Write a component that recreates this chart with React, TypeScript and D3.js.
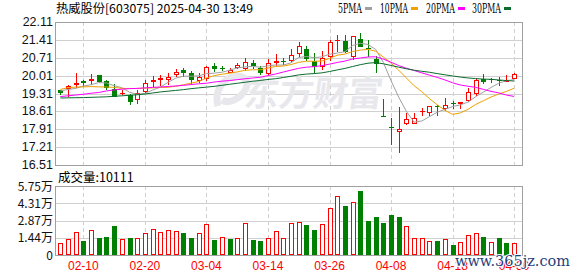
import React from 'react';
import * as d3 from 'd3';

const dates = [
  '02-05','02-06','02-07','02-10','02-11','02-12','02-13','02-14','02-17','02-18','02-19','02-20','02-21','02-24','02-25','02-26','02-27','02-28',
  '03-03','03-04','03-05','03-06','03-07','03-10','03-11','03-12','03-13','03-14','03-17','03-18','03-19','03-20','03-21','03-24','03-25','03-26','03-27','03-28','03-31',
  '04-01','04-02','04-03','04-07','04-08','04-09','04-10','04-11','04-14','04-15','04-16','04-17','04-18','04-21','04-22','04-23','04-24','04-25','04-28','04-29','04-30'
];
const opens = [19.44,19.47,19.64,19.80,19.81,20.03,19.79,19.47,19.28,19.25,19.06,19.37,19.77,19.82,19.84,20.05,20.23,20.11,19.79,19.86,
  20.39,20.31,20.12,20.32,20.26,20.50,20.31,20.07,20.50,20.59,20.59,20.86,21.06,20.60,20.33,20.74,21.37,21.37,20.73,21.43,
  21.11,20.67,18.42,18.00,17.81,18.13,18.12,18.59,18.56,18.82,18.72,18.94,18.90,19.03,19.28,19.88,19.87,19.83,19.77,19.88];
const highs = [19.46,19.63,20.12,19.82,20.07,20.03,19.84,19.68,19.45,19.29,19.45,19.84,19.98,20.03,20.11,20.28,20.32,20.20,20.12,20.39,
  20.49,20.40,20.32,20.49,20.69,20.62,20.39,20.66,20.85,20.71,21.04,21.34,21.16,20.88,20.97,21.39,21.60,21.60,21.58,21.68,
  21.41,20.78,19.09,18.34,18.78,18.53,18.56,18.74,18.82,18.86,19.13,19.03,18.96,19.51,19.93,20.07,19.93,19.96,20.03,20.13];
const lows = [19.25,19.19,19.53,19.57,19.64,19.74,19.45,19.17,19.27,18.86,18.88,19.33,19.58,19.60,19.64,19.96,19.97,19.68,19.71,19.80,
  20.16,20.20,20.11,20.25,20.20,20.27,20.03,20.03,20.39,20.43,20.56,20.74,20.58,20.10,20.23,20.58,20.95,20.88,20.62,21.12,
  20.75,20.13,18.38,17.29,16.99,18.08,18.11,18.43,18.41,18.43,18.63,18.70,18.69,18.99,19.22,19.67,19.73,19.60,19.76,19.88];
const closes = [19.34,19.59,19.73,19.73,19.88,19.75,19.53,19.19,19.34,18.99,19.34,19.71,19.84,19.90,19.94,20.16,20.10,19.84,19.97,20.36,
  20.26,20.28,20.24,20.41,20.56,20.37,20.12,20.49,20.59,20.54,20.82,21.17,20.68,20.36,20.69,21.34,21.40,20.95,21.56,21.14,
  21.09,20.45,18.40,17.97,17.92,18.30,18.35,18.63,18.82,18.78,18.86,18.90,18.96,19.36,19.84,19.75,19.82,19.80,19.84,20.06];
// volume in 万手
const volumes = [1.03,1.33,1.92,1.19,2.08,1.42,1.50,2.44,1.33,1.42,1.42,1.83,2.14,1.92,2.08,2.00,1.86,1.42,1.83,2.58,
  1.25,1.50,1.33,1.42,2.64,1.25,1.19,1.42,2.00,1.42,2.64,2.72,2.50,2.08,2.58,3.89,4.92,4.08,4.39,5.33,
  2.83,3.17,2.67,3.33,3.17,2.42,1.42,1.42,1.19,1.19,1.31,0.83,1.08,1.67,1.83,1.50,1.08,1.42,1.00,1.01];
const volUp = [1,1,1,0,1,0,0,0,1,0,1,1,1,1,1,1,0,0,1,1,
  0,1,0,1,1,0,0,1,1,1,1,1,0,0,1,1,1,0,1,0,
  0,0,0,0,0,1,1,1,1,0,1,0,1,1,1,0,1,0,0,1];
const ma5 = [19.41,19.47,19.51,19.60,19.654,19.736,19.724,19.616,19.538,19.36,19.278,19.314,19.444,19.556,19.746,19.91,19.988,19.988,20.002,20.086,
  20.106,20.142,20.222,20.31,20.35,20.372,20.34,20.39,20.426,20.422,20.512,20.722,20.76,20.714,20.744,20.848,20.894,20.948,21.188,21.278,
  21.228,21.038,20.528,19.81,19.166,18.608,18.188,18.234,18.404,18.576,18.688,18.798,18.864,18.972,19.184,19.362,19.546,19.714,19.81,19.854];
const ma10 = [19.47,19.54,19.56,19.57,19.58,19.57,19.565,19.55,19.51,19.507,19.507,19.519,19.53,19.547,19.553,19.594,19.651,19.716,19.779,19.916,
  20.008,20.065,20.105,20.156,20.218,20.239,20.241,20.306,20.368,20.386,20.442,20.531,20.575,20.57,20.583,20.68,20.808,20.854,20.951,21.011,
  21.038,20.966,20.738,20.499,20.222,19.918,19.613,19.381,19.107,18.871,18.648,18.493,18.549,18.688,18.88,19.025,19.172,19.289,19.391,19.519];
const ma20 = [19.19,19.22,19.25,19.28,19.32,19.35,19.41,19.45,19.48,19.50,19.51,19.53,19.55,19.565,19.585,19.605,19.63,19.66,19.69,19.712,
  19.758,19.792,19.818,19.852,19.886,19.917,19.946,20.011,20.074,20.151,20.225,20.298,20.34,20.363,20.40,20.46,20.525,20.58,20.66,20.699,
  20.74,20.749,20.657,20.535,20.403,20.299,20.211,20.118,20.029,19.941,19.843,19.73,19.644,19.594,19.551,19.472,19.393,19.335,19.249,19.195];
const ma30 = [19.135,19.14,19.145,19.15,19.16,19.17,19.18,19.20,19.22,19.24,19.26,19.29,19.33,19.37,19.40,19.43,19.46,19.50,19.53,19.56,
  19.59,19.63,19.67,19.71,19.75,19.79,19.82,19.86,19.89,19.936,19.986,20.038,20.07,20.091,20.118,20.171,20.233,20.292,20.366,20.438,
  20.496,20.521,20.473,20.408,20.341,20.279,20.221,20.18,20.142,20.089,20.043,19.997,19.954,19.919,19.895,19.874,19.864,19.841,19.816,19.80];

const priceTicks = [22.11, 21.41, 20.71, 20.01, 19.31, 18.61, 17.91, 17.21, 16.51];
const volTicks = [5.75, 4.31, 2.87, 1.44, 0];
const volTickLabels = ['5.75万', '4.31万', '2.87万', '1.44万', '0'];
const dateTicks = ['02-10', '02-20', '03-04', '03-14', '03-26', '04-08', '04-18', '04-30'];
const legendNames = ['5PMA', '10PMA', '20PMA', '30PMA'];
const title = '热威股份[603075] 2025-04-30 13:49';
const volLabel = '成交量:10111';

const RED = '#ff0000';
const GREEN = '#008000';
const MA_COLORS = ['#a0a0a0', '#f0a000', '#ff00ff', '#0b6b2e'];
const GRID = '#d0d0d0';
const FRAME = '#a0a0a0';
const NUMFONT = '"Liberation Sans", Arial, sans-serif';
const CJKFONT = '"Noto Sans CJK SC", "DejaVu Sans", sans-serif';

export default function App() {
  const W = 578, H = 276;
  const L = 56, R = 522, T = 22, B = 165, VT = 186, VB = 255;
  const n = dates.length;
  const x = d3.scalePoint<number>().domain(d3.range(n)).range([60.3, 514.1]);
  const y = d3.scaleLinear().domain([16.51, 22.11]).range([B, T]);
  const yv = d3.scaleLinear().domain([0, 5.75]).range([VB, VT]);
  const line = d3.line<number>().x((_, i) => x(i) as number).y(d => y(d));
  const tickIdx = dateTicks.map(t => dates.indexOf(t));
  const mas = [ma5, ma10, ma20, ma30];

  const candles = d3.range(n).map(i => {
    const px = Math.round(x(i) as number);
    const o = opens[i], c = closes[i], h = highs[i], l = lows[i];
    const up = c >= o;
    const col = up ? RED : GREEN;
    const yt = Math.round(y(Math.max(o, c)));
    const yb = Math.round(y(Math.min(o, c)));
    const yh = Math.round(y(h));
    const yl = Math.round(y(l));
    const parts: React.ReactNode[] = [];
    if (up) {
      if (yb - yt >= 2) {
        parts.push(<rect key="b" x={px - 1.5} y={yt + 0.5} width={4} height={yb - yt - 1} fill="#fff" stroke={col} strokeWidth={1} />);
      } else {
        parts.push(<rect key="b" x={px - 2} y={yt} width={5} height={Math.max(1, yb - yt)} fill={col} />);
      }
      if (yt > yh) parts.push(<rect key="u" x={px} y={yh} width={1} height={yt - yh} fill={col} />);
      if (yl > yb) parts.push(<rect key="d" x={px} y={yb} width={1} height={yl - yb} fill={col} />);
    } else {
      parts.push(<rect key="w" x={px} y={yh} width={1} height={Math.max(1, yl - yh)} fill={col} />);
      parts.push(<rect key="b" x={px - 2} y={yt} width={5} height={Math.max(1, yb - yt)} fill={col} />);
    }
    return <g key={i}>{parts}</g>;
  });

  const vols = d3.range(n).map(i => {
    const px = Math.round(x(i) as number);
    const top = Math.round(yv(volumes[i]));
    const up = volUp[i] === 1;
    return up ? (
      <rect key={i} x={px - 1.5} y={top + 0.5} width={4} height={VB - top - 1} fill="#fff" stroke={RED} strokeWidth={1} />
    ) : (
      <rect key={i} x={px - 2} y={top} width={5} height={VB - top} fill={GREEN} />
    );
  });

  const legendX = [338, 380, 426, 472];
  const legendLen = [24, 28, 29, 29];

  return (
    <svg width={W} height={H} viewBox={`0 0 ${W} ${H}`} style={{ position: 'absolute', left: 0, top: 0, background: '#fff' }}>
      <rect x={0} y={0} width={W} height={H} fill="#fff" />
      {/* title */}
      <text x={56} y={13} fontFamily={CJKFONT} fontSize={12} fill="#000" textLength={197} lengthAdjust="spacingAndGlyphs">{title}</text>
      {/* legend */}
      {legendNames.map((nm, k) => (
        <g key={nm}>
          <text x={legendX[k]} y={12.5} fontFamily={'"DejaVu Serif", serif'} fontSize={12.5} fill="#000" textLength={legendLen[k]} lengthAdjust="spacingAndGlyphs">{nm}</text>
          <rect x={legendX[k] + legendLen[k] + 3} y={7} width={7} height={3} fill={MA_COLORS[k]} />
        </g>
      ))}

      {/* main grid */}
      <g shapeRendering="crispEdges">
        {priceTicks.map(t => (
          <line key={t} x1={L} x2={R} y1={Math.round(y(t)) + 0.5} y2={Math.round(y(t)) + 0.5} stroke={GRID} />
        ))}
        {tickIdx.map(i => (
          <line key={i} x1={Math.round(x(i) as number) + 0.5} x2={Math.round(x(i) as number) + 0.5} y1={T} y2={B} stroke={GRID} strokeDasharray="4,3" />
        ))}
        {volTicks.map(t => (
          <line key={t} x1={L} x2={R} y1={Math.round(yv(t)) + 0.5} y2={Math.round(yv(t)) + 0.5} stroke={GRID} />
        ))}
        {tickIdx.map(i => (
          <line key={'v' + i} x1={Math.round(x(i) as number) + 0.5} x2={Math.round(x(i) as number) + 0.5} y1={VT} y2={VB} stroke={GRID} strokeDasharray="4,3" />
        ))}
      </g>

      {/* watermark */}
      <g fill="#e8e8ec">
        <path d="M218,106 C214,92 222,78 236,76 C246,75 250,84 244,92 C238,100 228,104 222,100" fill="none" stroke="#e8e8ec" strokeWidth={7} />
        <text x={243} y={106} fontFamily={CJKFONT} fontWeight={700} fontSize={35} transform="skewX(-8)" style={{ transformOrigin: '243px 106px' }} textLength={138} lengthAdjust="spacingAndGlyphs">东方财富</text>
      </g>

      {/* volume bars */}
      <g shapeRendering="crispEdges">{vols}</g>

      {/* candles */}
      <g shapeRendering="crispEdges">{candles}</g>

      {/* moving averages */}
      {mas.map((arr, k) => (
        <path key={k} d={line(arr) || ''} fill="none" stroke={MA_COLORS[k]} strokeWidth={1} />
      ))}

      {/* frames */}
      <g shapeRendering="crispEdges" fill="none" stroke={FRAME}>
        <rect x={L - 0.5} y={T + 0.5} width={R - L + 1} height={B - T} />
        <rect x={L - 0.5} y={VT + 0.5} width={R - L + 1} height={VB - VT} />
      </g>

      {/* price axis labels */}
      {priceTicks.map(t => (
        <text key={t} x={53} y={y(t) + 4} textAnchor="end" fontFamily={NUMFONT} fontSize={12.5} fill="#111">{t.toFixed(2)}</text>
      ))}
      {/* volume axis labels */}
      {volTicks.map((t, k) => (
        <text key={t} x={53} y={yv(t) + 4.5} textAnchor="end" fontFamily={CJKFONT} fontSize={12} fill="#111">{volTickLabels[k]}</text>
      ))}
      <text x={58} y={181.5} fontFamily={CJKFONT} fontSize={12.5} fill="#000">{volLabel}</text>

      {/* date labels */}
      {tickIdx.map((i, k) => (
        <text key={i} x={x(i) as number} y={270} textAnchor="middle" fontFamily={NUMFONT} fontSize={12} fill={RED}>{dateTicks[k]}</text>
      ))}

      {/* site watermark */}
      <text x={455} y={266} fontFamily={'"DejaVu Serif", serif'} fontSize={15} fill="#1f3f7a" stroke="#fff" strokeWidth={2} paintOrder="stroke" textLength={115} lengthAdjust="spacingAndGlyphs">www.365jz.com</text>
    </svg>
  );
}
